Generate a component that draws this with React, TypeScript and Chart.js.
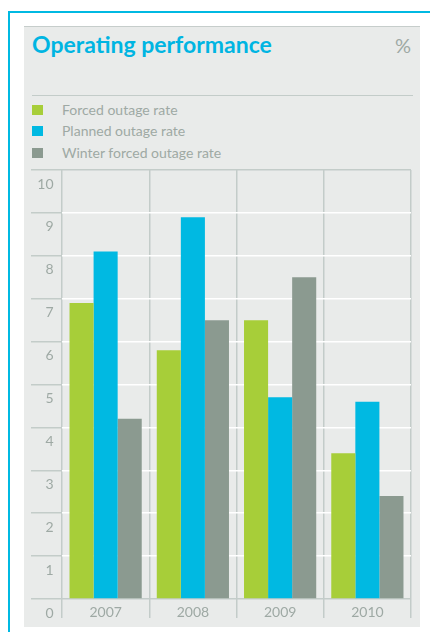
import React, { useEffect, useRef } from "react";
import { Chart, registerables } from "chart.js";

Chart.register(...registerables);

const years = ["2007", "2008", "2009", "2010"];
const forcedOutageRate = [6.9, 5.8, 6.5, 3.4];
const plannedOutageRate = [8.1, 8.9, 4.7, 4.6];
const winterForcedOutageRate = [4.2, 6.5, 7.5, 2.4];
const seriesNames = ["Forced outage rate", "Planned outage rate", "Winter forced outage rate"];
const seriesColors = ["#a7ce39", "#00b9e2", "#8b9a90"];
const legendBaselines = [115, 136, 158];

const GRID = "#c3ccc9";
const TXT = "#9ea9a4";
const FONT = "Lato, 'DejaVu Sans', sans-serif";

export default function App() {
  const canvasRef = useRef<HTMLCanvasElement | null>(null);

  useEffect(() => {
    const canvas = canvasRef.current;
    if (!canvas) return;
    const chart = new Chart(canvas, {
      type: "bar",
      data: {
        labels: years,
        datasets: [forcedOutageRate, plannedOutageRate, winterForcedOutageRate].map((d, i) => ({
          label: seriesNames[i],
          data: d,
          backgroundColor: seriesColors[i],
          borderWidth: 0,
          categoryPercentage: 0.8276,
          barPercentage: 1,
        })),
      },
      options: {
        animation: false,
        responsive: false,
        maintainAspectRatio: false,
        layout: { padding: { top: 10, right: 9, left: 0, bottom: 0 } },
        plugins: { legend: { display: false }, tooltip: { enabled: false } },
        scales: {
          x: {
            grid: {
              offset: true,
              color: GRID,
              tickColor: GRID,
              lineWidth: 1.5,
              tickLength: 19,
              drawTicks: true,
            },
            border: { display: false },
            ticks: { color: TXT, font: { family: FONT, size: 14 }, padding: -14 },
            afterFit: (s: any) => {
              s.height = 27;
              s.paddingLeft = 0;
              s.paddingRight = 0;
            },
          },
          y: {
            min: 0,
            max: 10,
            ticks: {
              stepSize: 1,
              color: TXT,
              font: { family: FONT, size: 14 },
              labelOffset: 14,
              padding: -22.5,
            },
            grid: {
              color: (ctx: any) =>
                ctx.tick && (ctx.tick.value === 0 || ctx.tick.value === 10) ? GRID : "#ffffff",
              tickColor: GRID,
              tickLength: 31,
              lineWidth: 1.5,
            },
            border: { display: false },
            afterFit: (s: any) => {
              s.width = 38;
              s.paddingTop = 0;
              s.paddingBottom = 0;
            },
          },
        },
      },
    });
    return () => chart.destroy();
  }, []);

  return (
    <div
      style={{
        position: "fixed",
        left: 0,
        top: 0,
        width: 430,
        height: 632,
        overflow: "hidden",
        background: "#ffffff",
        fontFamily: FONT,
      }}
    >
      <div
        style={{
          position: "absolute",
          left: 8,
          top: 11,
          width: 430,
          height: 640,
          borderLeft: "2px solid #00b9e2",
          borderTop: "2px solid #00b9e2",
        }}
      />
      <div
        style={{
          position: "absolute",
          left: 24,
          top: 26,
          width: 396,
          height: 600,
          background: "#e9ebea",
          borderTop: "1px solid #c6cdcb",
        }}
      />
      <div
        style={{
          position: "absolute",
          left: 32,
          top: 30.3,
          fontSize: 23,
          fontWeight: 700,
          color: "#00b5e2",
          lineHeight: "normal",
          whiteSpace: "nowrap",
        }}
      >
        Operating performance
      </div>
      <div
        style={{
          position: "absolute",
          right: 19,
          top: 33.3,
          fontSize: 20,
          fontWeight: 400,
          color: TXT,
          lineHeight: "normal",
        }}
      >
        %
      </div>
      <div
        style={{
          position: "absolute",
          left: 32,
          top: 95,
          width: 381,
          height: 1,
          background: GRID,
        }}
      />
      {seriesNames.map((name, i) => (
        <React.Fragment key={name}>
          <div
            style={{
              position: "absolute",
              left: 32,
              top: legendBaselines[i] - 10,
              width: 11,
              height: 10,
              background: seriesColors[i],
            }}
          />
          <div
            style={{
              position: "absolute",
              left: 62,
              top: legendBaselines[i] - 13.8,
              fontSize: 14,
              color: TXT,
              lineHeight: "normal",
              whiteSpace: "nowrap",
            }}
          >
            {name}
          </div>
        </React.Fragment>
      ))}
      <canvas
        ref={canvasRef}
        width={396}
        height={466}
        style={{ position: "absolute", left: 24, top: 160, width: 396, height: 466 }}
      />
    </div>
  );
}
